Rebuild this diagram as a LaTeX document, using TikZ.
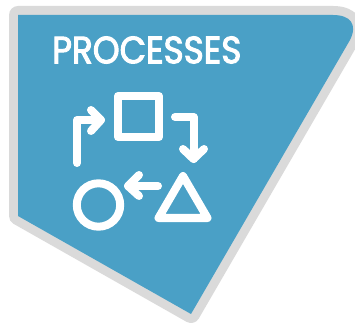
\documentclass[tikz,border=0pt]{standalone}
\usepackage{fontspec}
\setmainfont{Poppins}
\definecolor{badgeblue}{HTML}{4AA0C6}
\definecolor{badgegrey}{HTML}{DADADA}
\tikzset{
  ink/.style={draw=white,line width=8pt,line join=round,line cap=round},
  inkmiter/.style={draw=white,line width=8pt,line join=round}
}
\begin{document}
\begin{tikzpicture}[x=1pt,y=-1pt]
\useasboundingbox (0,0) rectangle (355,328);
\begin{scope}
\clip (0,0) rectangle (355,328);
\path[draw=badgegrey,line width=18pt,line join=round]
  (18,15) -- (333,15) .. controls (350,15) and (358,24) .. (350,40) -- (191,314) -- (18,216) -- cycle;
\path[fill=badgeblue]
  (18,15) -- (333,15) .. controls (350,15) and (358,24) .. (350,40) -- (191,314) -- (18,216) -- cycle;
\end{scope}
\node[anchor=west,inner sep=0pt,text=white] (title) at (52,50) {\fontsize{38}{38}\selectfont\addfontfeatures{FakeBold=2.6,FakeStretch=0.9}PROCESSES};
% square
\draw[inkmiter] (118,96) rectangle (159,137);
% circle
\draw[ink] (98.5,205) circle (21.7);
% triangle
\draw[ink] (183,176) -- (158.5,218) -- (207.5,218) -- cycle;
% arrows
\draw[ink] (77,163) -- (77,120) -- (101,120);
\draw[ink] (91,110) -- (101,120) -- (91,131);
\draw[ink] (175,117) -- (193.5,117) -- (193.5,159);
\draw[ink] (183,149) -- (193.5,159) -- (204,149);
\draw[ink] (158,186) -- (128,186);
\draw[ink] (139,175) -- (128,186) -- (139,196);
\end{tikzpicture}
\end{document}
